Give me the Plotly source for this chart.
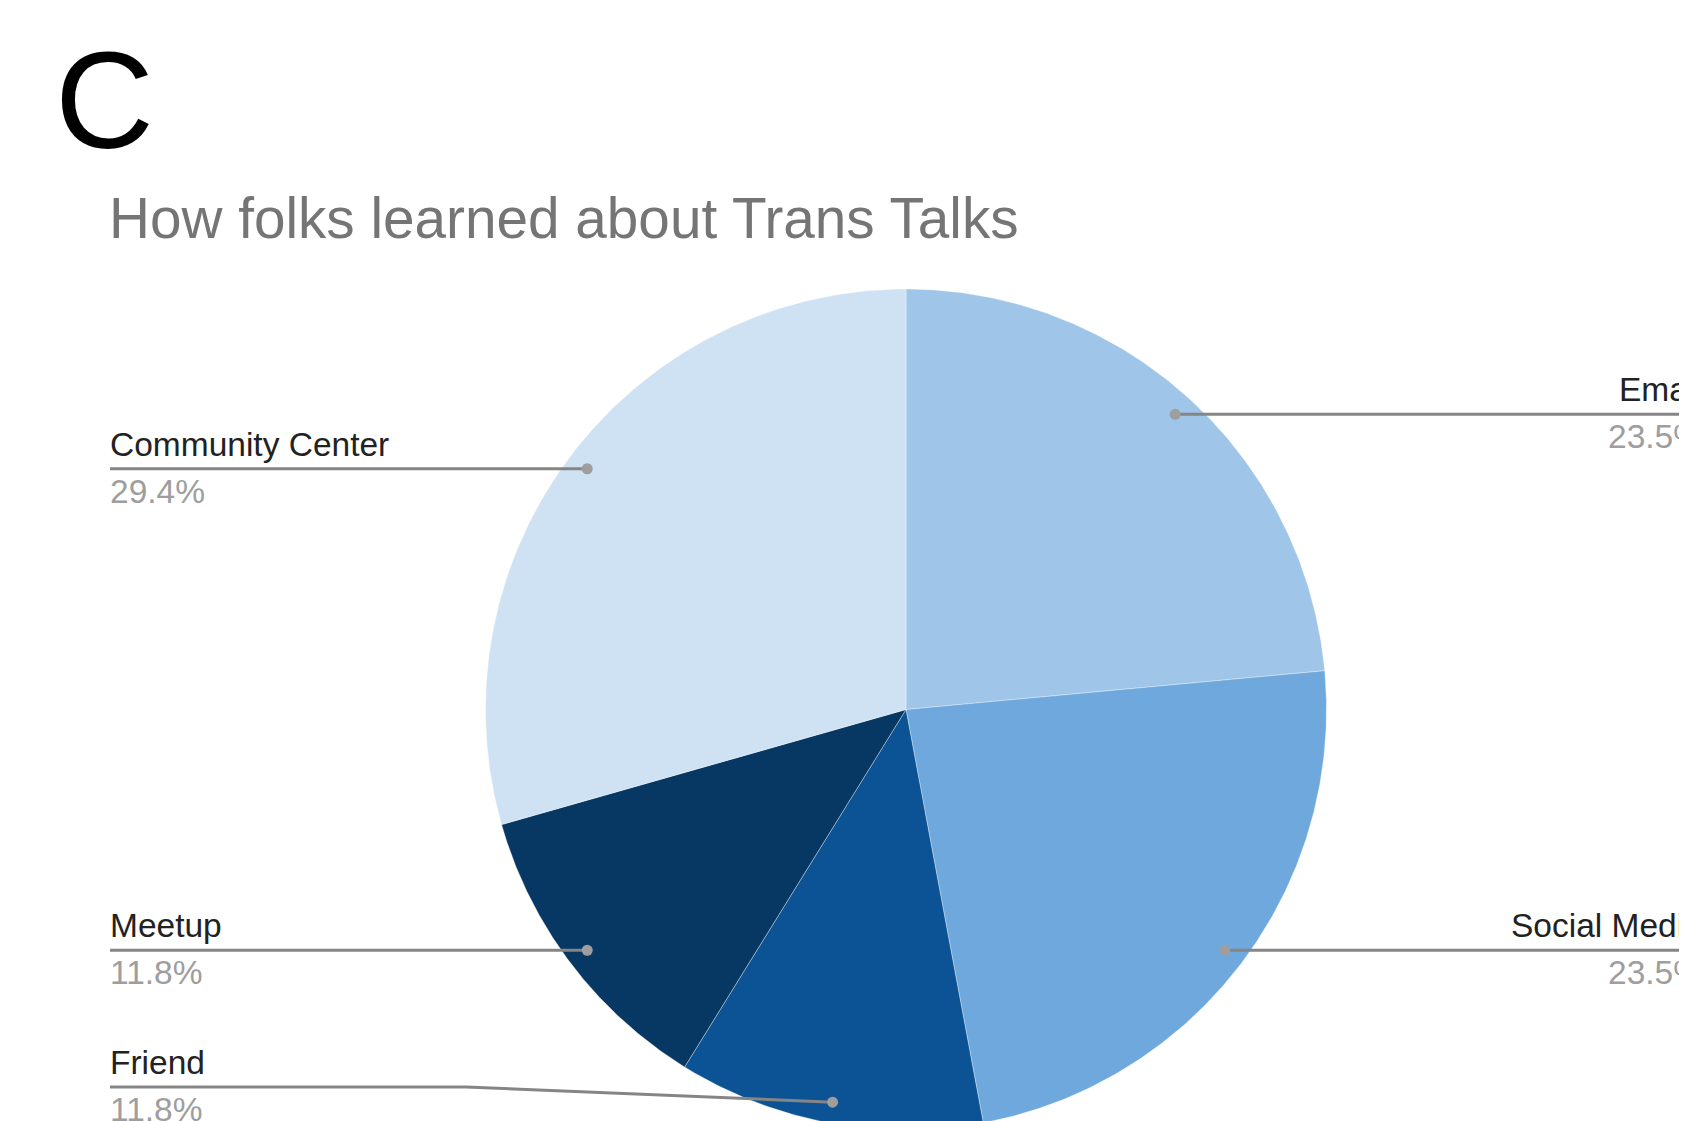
import numpy as np
import plotly.graph_objects as go

title = "How folks learned about Trans Talks"
panel_letter = "C"

sources = ["Email", "Social Media", "Friend", "Meetup", "Community Center"]
responses = [4, 4, 2, 2, 5]
slice_colors = ["#9fc5e8", "#6fa8dc", "#0b5394", "#073763", "#cfe2f3"]

W, H = 1687, 1121
OFF = 8  # the page body margin; axes are set so data units == page pixels
FONT = "Arial, Liberation Sans, sans-serif"

# pie geometry in page pixels
CX, CY, R = 906, 709.5, 420.5
DOT_R = 0.95  # leader dots sit just inside the rim
LEFT_X = 110
RIGHT_X = 1705  # right-hand labels end past the page edge
# Friend's label is lifted off the bottom edge: (elbow x, line y)
label_lift = {"Friend": (466, 1087)}


def _point(angle_deg, r):
    t = np.deg2rad(angle_deg)
    return CX + r * np.sin(t), CY - r * np.cos(t)


fig = go.Figure(layout=go.Layout(width=W, height=H))

total = sum(responses)
start = 0.0
for name, val, color in zip(sources, responses, slice_colors):
    sweep = val / total * 360
    t = np.linspace(start, start + sweep, 200)
    xs, ys = _point(t, R)
    fig.add_trace(
        go.Scatter(
            x=[CX, *xs, CX],
            y=[CY, *ys, CY],
            fill="toself",
            fillcolor=color,
            mode="lines",
            line={"color": "rgba(255,255,255,0.35)", "width": 1},
            hoverinfo="skip",
            showlegend=False,
        )
    )

    # leader line, dot and label
    mid = start + sweep / 2
    dx, dy = _point(mid, DOT_R * R)
    share = f"{val / total * 100:.1f}%"
    if mid < 180:
        ly = dy
        line_x, line_y = [dx, W + 60], [dy, dy]
        lab_x, anchor, xref = (RIGHT_X - OFF) / W, "right", "paper"
    elif name in label_lift:
        ex, ly = label_lift[name]
        line_x, line_y = [dx, ex, LEFT_X], [dy, ly, ly]
        lab_x, anchor, xref = LEFT_X - 2, "left", "x"
    else:
        ly = dy
        line_x, line_y = [dx, LEFT_X], [dy, dy]
        lab_x, anchor, xref = LEFT_X - 2, "left", "x"

    fig.add_trace(
        go.Scatter(
            x=line_x,
            y=line_y,
            mode="lines",
            line={"color": "#858585", "width": 3},
            hoverinfo="skip",
            showlegend=False,
        )
    )
    fig.add_trace(
        go.Scatter(
            x=[dx],
            y=[dy],
            mode="markers",
            marker={"color": "#9e9e9e", "size": 11},
            hoverinfo="skip",
            showlegend=False,
        )
    )
    fig.add_annotation(
        x=lab_x, y=ly - 4, xref=xref, yref="y", text=name, showarrow=False,
        xanchor=anchor, yanchor="bottom",
        font={"family": FONT, "size": 33.5, "color": "#222222"},
    )
    fig.add_annotation(
        x=lab_x, y=ly + 2, xref=xref, yref="y", text=share, showarrow=False,
        xanchor=anchor, yanchor="top",
        font={"family": FONT, "size": 33.5, "color": "#9e9e9e"},
    )
    start += sweep

fig.add_annotation(
    x=107, y=185, xref="x", yref="y", text=title, showarrow=False,
    xanchor="left", yanchor="top",
    font={"family": FONT, "size": 56.7, "color": "#757575"},
)
fig.add_annotation(
    x=53, y=22, xref="x", yref="y", text=panel_letter, showarrow=False,
    xanchor="left", yanchor="top",
    font={"family": FONT, "size": 137, "color": "#000000"},
)

fig.update_xaxes(range=[OFF, W + OFF], visible=False, fixedrange=True)
fig.update_yaxes(range=[H + OFF, OFF], visible=False, fixedrange=True)
fig.update_layout(
    margin={"l": 0, "r": 0, "t": 0, "b": 0, "pad": 0},
    plot_bgcolor="white",
    paper_bgcolor="white",
)

fig.write_html("out.html")
